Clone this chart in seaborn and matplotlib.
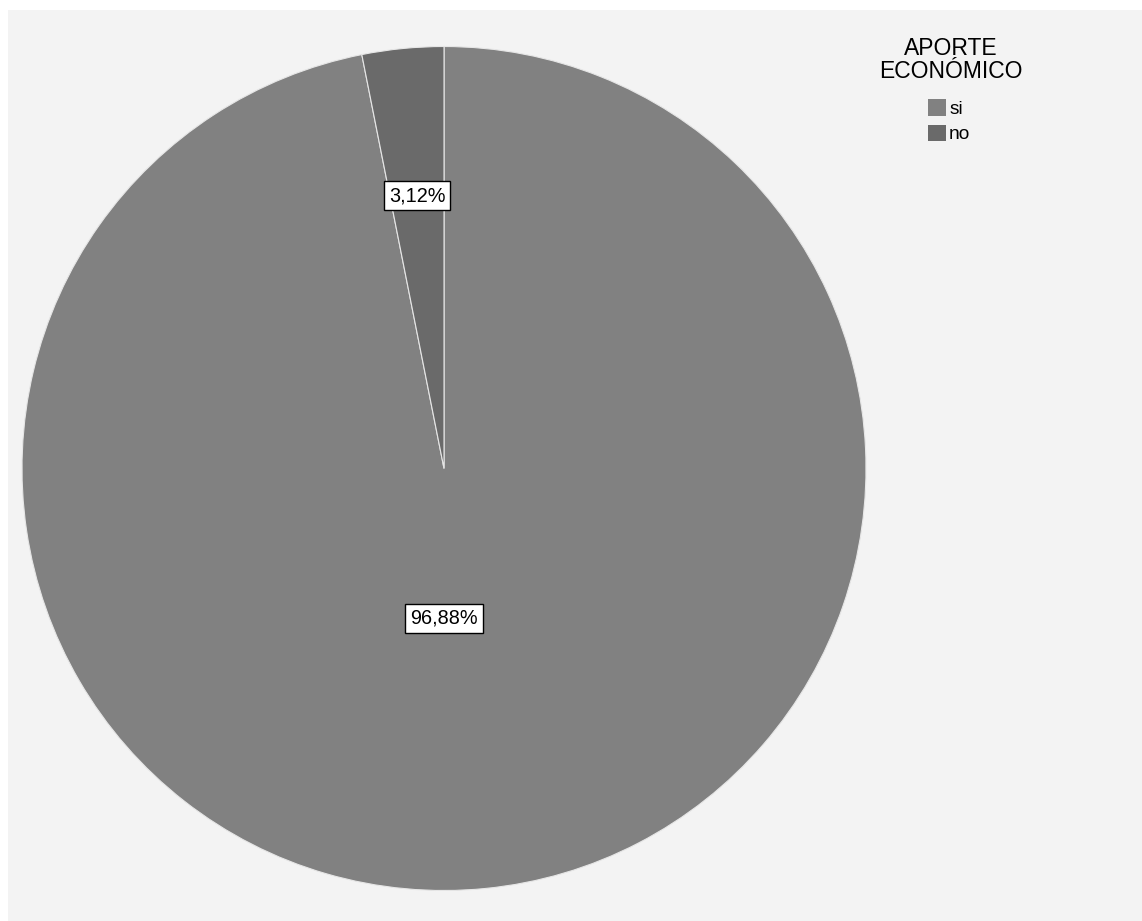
import matplotlib
matplotlib.use("Agg")
import matplotlib.pyplot as plt
import matplotlib.patches as mpatches
import seaborn as sns
import numpy as np

# data
categories = ["si", "no"]
percentages = [96.88, 3.12]
pct_labels = ["96,88%", "3,12%"]
slice_colors = ["#818181", "#6a6a6a"]
legend_title = "APORTE\nECONÓMICO"

sns.set_theme(style="white")
plt.rcParams['font.family'] = ['Liberation Sans', 'DejaVu Sans']
plt.rcParams['text.color'] = 'black'

W, H = 1142, 921
fig = plt.figure(figsize=(W / 100, H / 100), dpi=100, facecolor="white")

# light gray panel
fig.patches.append(mpatches.Rectangle((8 / W, 0), 1 - 8 / W, 1 - 10 / H,
                                      transform=fig.transFigure, facecolor="#f3f3f3",
                                      edgecolor="none", zorder=-5))

# pie axes
cx, cy, r = 444, 468.5, 422
ax = fig.add_axes([(cx - r) / W, (H - cy - r) / H, 2 * r / W, 2 * r / H])
ax.set_facecolor("none")

start = 90 - percentages[0] / 100 * 360
wedges, _ = ax.pie(percentages, colors=slice_colors, startangle=start, counterclock=True,
                   radius=1, wedgeprops=dict(edgecolor="#e6e6e6", linewidth=0.8))
ax.set_xlim(-1, 1)
ax.set_ylim(-1, 1)
ax.set_aspect("equal")
ax.axis("off")

# percentage labels (big slice label sits straight below the centre)
label_dist = [0.355, 0.65]
for i, (w, lab, d) in enumerate(zip(wedges, pct_labels, label_dist)):
    mid = np.deg2rad((w.theta1 + w.theta2) / 2)
    if w.theta2 - w.theta1 > 180:
        mid = np.deg2rad(-90)
    ax.text(d * np.cos(mid), d * np.sin(mid), lab, ha="center", va="center",
            fontsize=14.3, color="black",
            bbox=dict(boxstyle="square,pad=0.25", facecolor="white", edgecolor="black", linewidth=1))

# legend title + entries
fig.text(951 / W, 1 - 60 / H, legend_title, ha="center", va="center", fontsize=16.5,
         color="black", linespacing=0.95, multialignment="center")
leg = fig.legend(wedges, categories, loc="upper left",
                 bbox_to_anchor=(928 / W, 1 - 99 / H), frameon=False,
                 fontsize=13.8, handlelength=0.95, handleheight=0.95,
                 handletextpad=0.15, labelspacing=0.35, borderpad=0, borderaxespad=0)
for t in leg.get_texts():
    t.set_color("black")
for h in leg.legend_handles:
    h.set_edgecolor("none")

fig.savefig("out.png", dpi=100, facecolor="white")
